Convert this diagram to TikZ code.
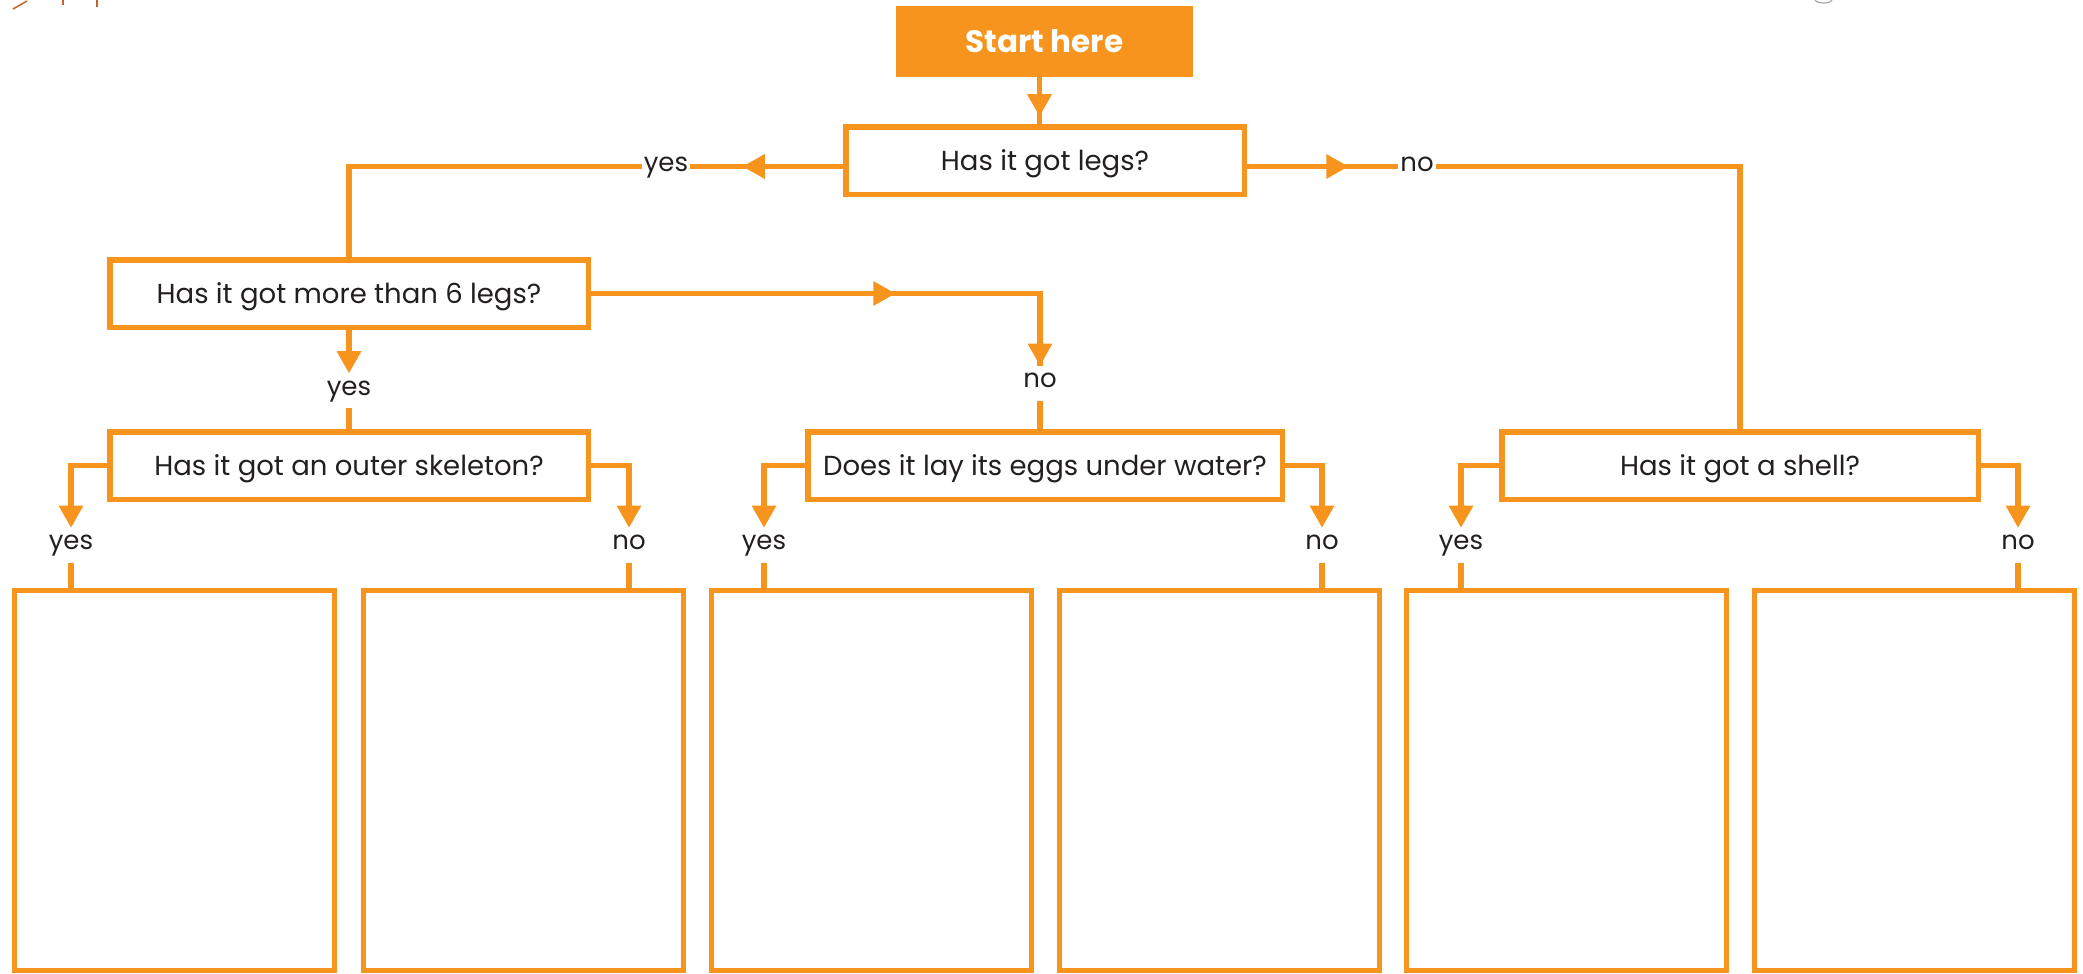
\documentclass[tikz,border=0pt]{standalone}
\usepackage{fontspec}
\setmainfont{Poppins}
\usetikzlibrary{arrows.meta,decorations.markings,calc}
\definecolor{ora}{HTML}{F7941D}
\definecolor{ink}{HTML}{231F20}
\definecolor{brn}{HTML}{C4622D}
\begin{document}
\begin{tikzpicture}[x=1pt,y=-1pt,
  conn/.style={draw=ora,color=ora,line width=5.5pt},
  tipend/.style={-{Triangle[length=22pt,width=25pt,line width=0pt]}},
  midtip/.style={postaction={decorate},decoration={markings,mark=at position #1 with {\arrow{Triangle[length=22pt,width=25pt,line width=0pt]}}}},
  qbox/.style={draw=ora,line width=5.5pt,fill=white,text=ink,font=\fontsize{27.5}{32}\selectfont,text height=19pt,text depth=0pt,inner sep=0pt,outer sep=0pt,minimum height=67.5pt},
  lbl/.style={text=ink,font=\fontsize{26}{30}\selectfont,text height=15pt,text depth=6pt,inner xsep=2pt,inner ysep=7pt,outer sep=0pt,fill=white},
  abox/.style={draw=ora,line width=5pt,minimum width=320pt,minimum height=380pt,inner sep=0pt,outer sep=0pt},
  startbox/.style={fill=ora,text=white,font=\fontsize{31}{36}\selectfont\bfseries,minimum width=297pt,minimum height=71pt,inner sep=0pt},
  scrap/.style={draw=brn,line width=1.5pt}
]
\useasboundingbox (0,0) rectangle (2083,974);

% cropped fragments at the edges
\draw[scrap] (13,9) -- (27,1);
\draw[scrap] (63,0) -- (63,5);
\draw[scrap] (97,0) -- (97,7);
\draw[draw=gray!70,line width=1.2pt] (1815,0) .. controls (1817,4) and (1830,4) .. (1832,0);

% nodes
\node[startbox] (start) at (1044.5,41.5) {Start here};
\node[qbox,minimum width=398.5pt] (legs) at (1045,160.5) {Has it got legs?};
\node[qbox,minimum width=478.5pt] (six) at (349,293.5) {Has it got more than 6 legs?};
\node[qbox,minimum width=478.5pt] (outer) at (349,465.5) {Has it got an outer skeleton?};
\node[qbox,minimum width=474.5pt] (eggs) at (1045,465.5) {Does it lay its eggs under water?};
\node[qbox,minimum width=476.5pt] (shell) at (1740,465.5) {Has it got a shell?};

\node[lbl] (ylegs) at (666,166.5) {yes};
\node[lbl] (nlegs) at (1417,166.5) {no};
\node[lbl] (ysix) at (349,390.5) {yes};
\node[lbl] (nsix) at (1040,383) {no};
\node[lbl] (y1) at (71,545) {yes};
\node[lbl] (n1) at (629,545) {no};
\node[lbl] (y2) at (764,545) {yes};
\node[lbl] (n2) at (1322,545) {no};
\node[lbl] (y3) at (1461,545) {yes};
\node[lbl] (n3) at (2018,545) {no};

\node[abox] (box1) at (174,780.5) {};
\node[abox] (box2) at (523.5,780.5) {};
\node[abox] (box3) at (871.5,780.5) {};
\node[abox] (box4) at (1219.5,780.5) {};
\node[abox] (box5) at (1566,780.5) {};
\node[abox] (box6) at (1914.5,780.5) {};

% connectors
\draw[conn,midtip=39pt] ([xshift=-5pt]start.south) -- ([xshift=-5pt]start.south |- legs.north);
\draw[conn,midtip=103pt] ([yshift=-6pt]legs.west) -- (ylegs.east);
\draw[conn] (ylegs.west) -| (six.north);
\draw[conn,midtip=104pt] ([yshift=-6pt]legs.east) -- (nlegs.west);
\draw[conn] (nlegs.east) -| (shell.north);
\draw[conn,tipend] (six.south) -- (ysix.north);
\draw[conn] (ysix.south) -- (outer.north);
\draw[conn,midtip=307pt] (six.east) -| (nsix.north);
\draw[conn,tipend] ([yshift=25pt]nsix.north) -- (nsix.north);
\draw[conn] (nsix.south) -- (nsix.south |- eggs.north);

\draw[conn,tipend] (outer.west) -| (y1.north);
\draw[conn] (y1.south) -- (y1.south |- box1.north);
\draw[conn,tipend] (outer.east) -| (n1.north);
\draw[conn] (n1.south) -- (n1.south |- box2.north);
\draw[conn,tipend] (eggs.west) -| (y2.north);
\draw[conn] (y2.south) -- (y2.south |- box3.north);
\draw[conn,tipend] (eggs.east) -| (n2.north);
\draw[conn] (n2.south) -- (n2.south |- box4.north);
\draw[conn,tipend] (shell.west) -| (y3.north);
\draw[conn] (y3.south) -- (y3.south |- box5.north);
\draw[conn,tipend] (shell.east) -| (n3.north);
\draw[conn] (n3.south) -- (n3.south |- box6.north);
\end{tikzpicture}
\end{document}
